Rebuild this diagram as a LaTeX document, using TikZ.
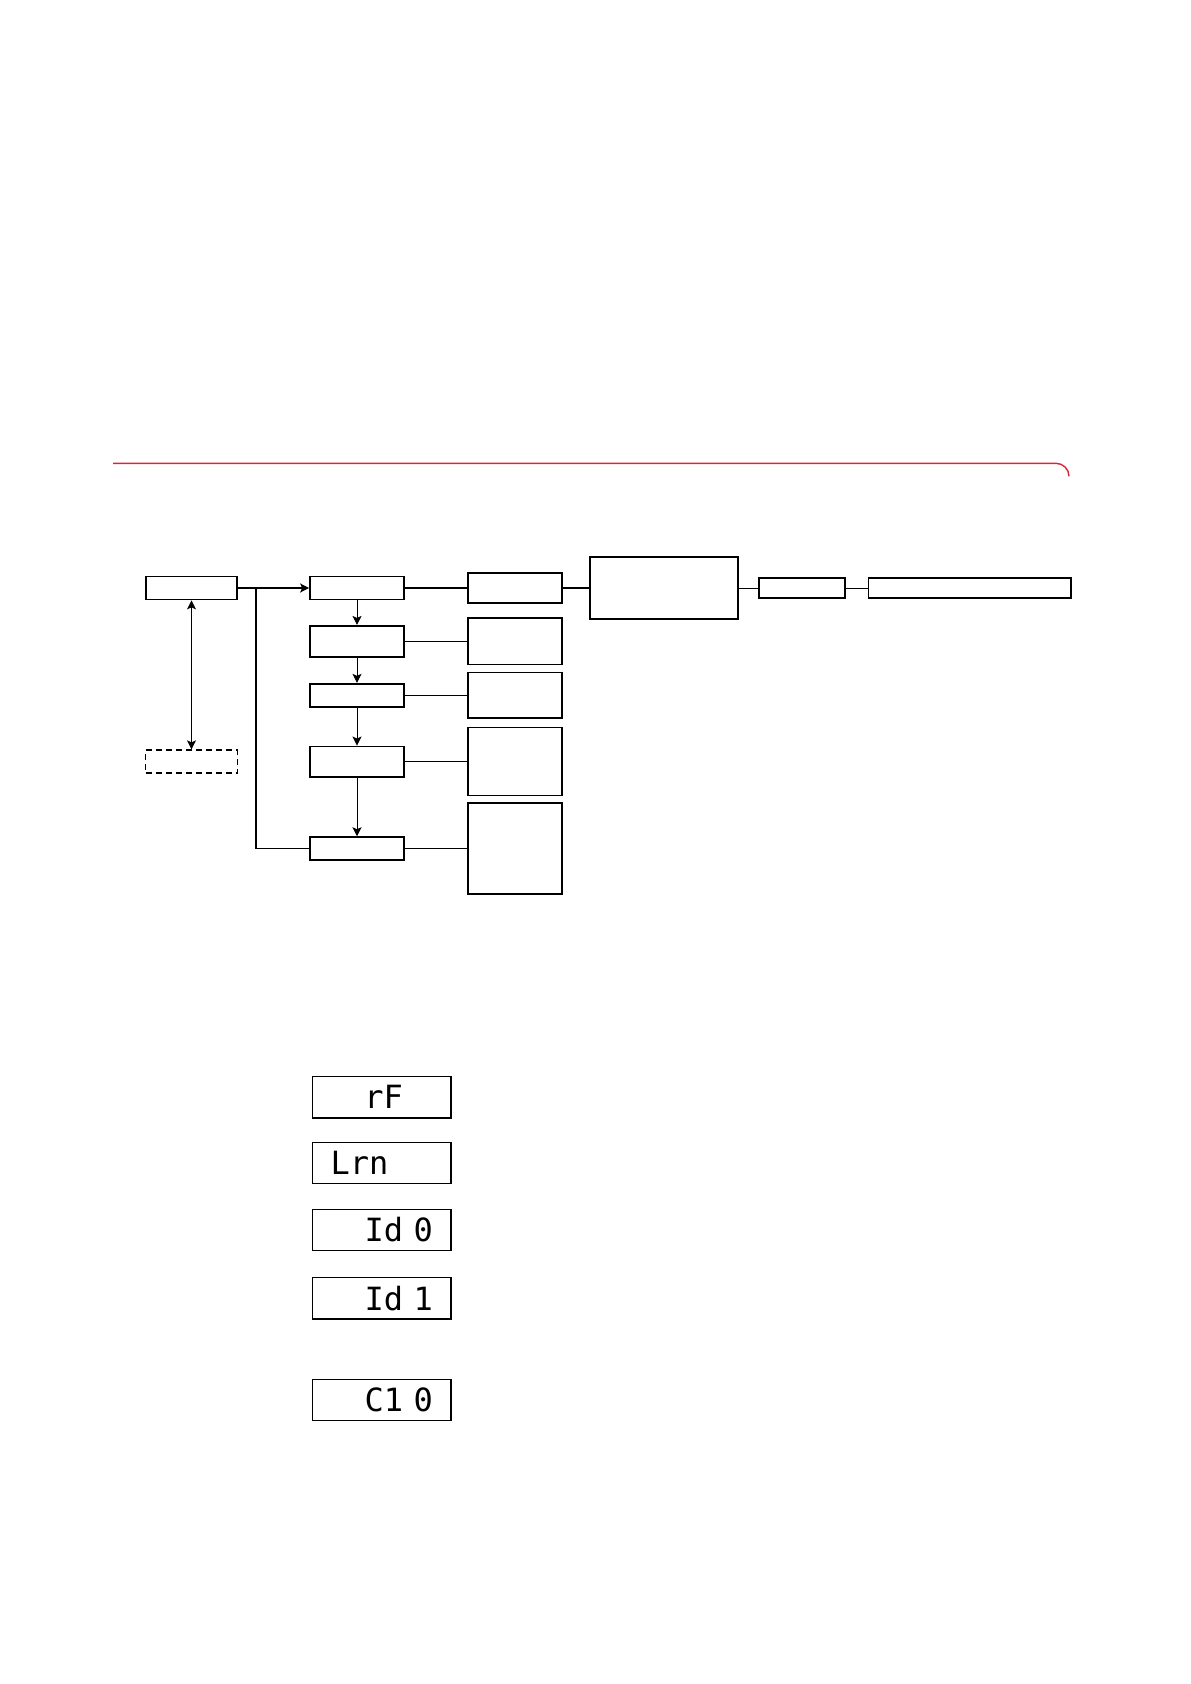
\documentclass[tikz,border=0pt]{standalone}
\usepackage{fontspec}
\usetikzlibrary{arrows.meta,positioning}
\newfontfamily\lcdfamily{DejaVu Sans Mono}
\definecolor{rulered}{RGB}{222,35,52}

\begin{document}
\begin{tikzpicture}[
   x=0.5pt, y=-0.5pt,
   node distance=13pt,
   box/.style={draw, line width=0.85pt, minimum width=47pt, minimum height=11.5pt,
               inner sep=0pt},
   dashbox/.style={box, line width=0.7pt, dash pattern=on 3pt off 2pt},
   lcd/.style={draw, line width=0.75pt, minimum width=69.2pt, minimum height=20.7pt,
               inner xsep=9pt, inner ysep=0pt, text width=51.2pt, align=right,
               font=\lcdfamily\fontsize{16pt}{18pt}\selectfont},
   link/.style={line width=0.7pt},
   thinlink/.style={line width=0.45pt},
   >={Stealth[length=4.5pt, width=4.5pt, inset=1pt]}]
  \useasboundingbox (0,0) rectangle (1190,1684);
  \draw[rulered, line width=0.7pt] (113,463.3) -- (1056,463.3)
     arc[start angle=90, end angle=0, radius=6.5pt];

  % left column
  \node[box, minimum width=45.8pt] (remote) at (191.5,588) {};
  \node[dashbox, minimum width=45.8pt, below=74.5pt of remote] (spare) {};

  % menu chain
  \node[box, right=35.5pt of remote] (rfmenu) {};
  \node[box, minimum height=15.6pt, below=12.3pt of rfmenu] (lrnmenu) {};
  \node[box, below=12.5pt of lrnmenu] (idzmenu) {};
  \node[box, minimum height=15.2pt, below=19pt of idzmenu] (idomenu) {};
  \node[box, below=29.3pt of idomenu] (cmenu) {};

  % info column
  \node[box, minimum height=15.2pt, right=31pt of rfmenu] (rfinfo) {};
  \node[box, minimum height=23.2pt, right=31pt of lrnmenu] (lrninfo) {};
  \node[box, minimum height=22.7pt, right=31pt of idzmenu] (idzinfo) {};
  \node[box, minimum height=34pt, right=31pt of idomenu] (idoinfo) {};
  \node[box, minimum height=45.4pt, right=31pt of cmenu] (cinfo) {};

  % top row
  \node[box, minimum width=74pt, minimum height=30.8pt, right=13.3pt of rfinfo] (unit) {};
  \node[box, minimum width=43pt, minimum height=10.3pt, right=9.5pt of unit] (key) {};
  \node[box, minimum width=101.2pt, minimum height=10.3pt, right=11pt of key] (code) {};

  \coordinate (split) at ([xshift=9pt]remote.east);
  \draw[link, ->] (remote) -- (rfmenu);
  \draw[link] (split) |- (cmenu);
  \draw[thinlink, <->] (remote) -- (spare);
  \foreach \a/\b in {rfmenu/lrnmenu, lrnmenu/idzmenu, idzmenu/idomenu, idomenu/cmenu}
    \draw[thinlink, ->] (\a) -- (\b);
  \draw[link] (rfmenu) -- (rfinfo);
  \draw[link] (lrnmenu) -- (lrninfo);
  \draw[thinlink] (idzmenu) -- (idzinfo);
  \draw[link] (idomenu) -- (idoinfo);
  \draw[thinlink] (cmenu) -- (cinfo);
  \draw[link] (rfinfo) -- (unit);
  \draw[thinlink] (unit) -- (key);
  \draw[thinlink] (key) -- (code);

  % displays
  \node[lcd] (rfdisp) at (381.8,1097.3) {rF\rule{15pt}{0pt}};
  \node[lcd, align=left] (lrndisp) at (381.8,1163) {Lrn};
  \node[lcd] (idzdisp) at (381.8,1230) {Id 0};
  \node[lcd] (idodisp) at (381.8,1298.3) {Id 1};
  \node[lcd] (cdisp) at (381.8,1400) {C1 0};
\end{tikzpicture}
\end{document}
